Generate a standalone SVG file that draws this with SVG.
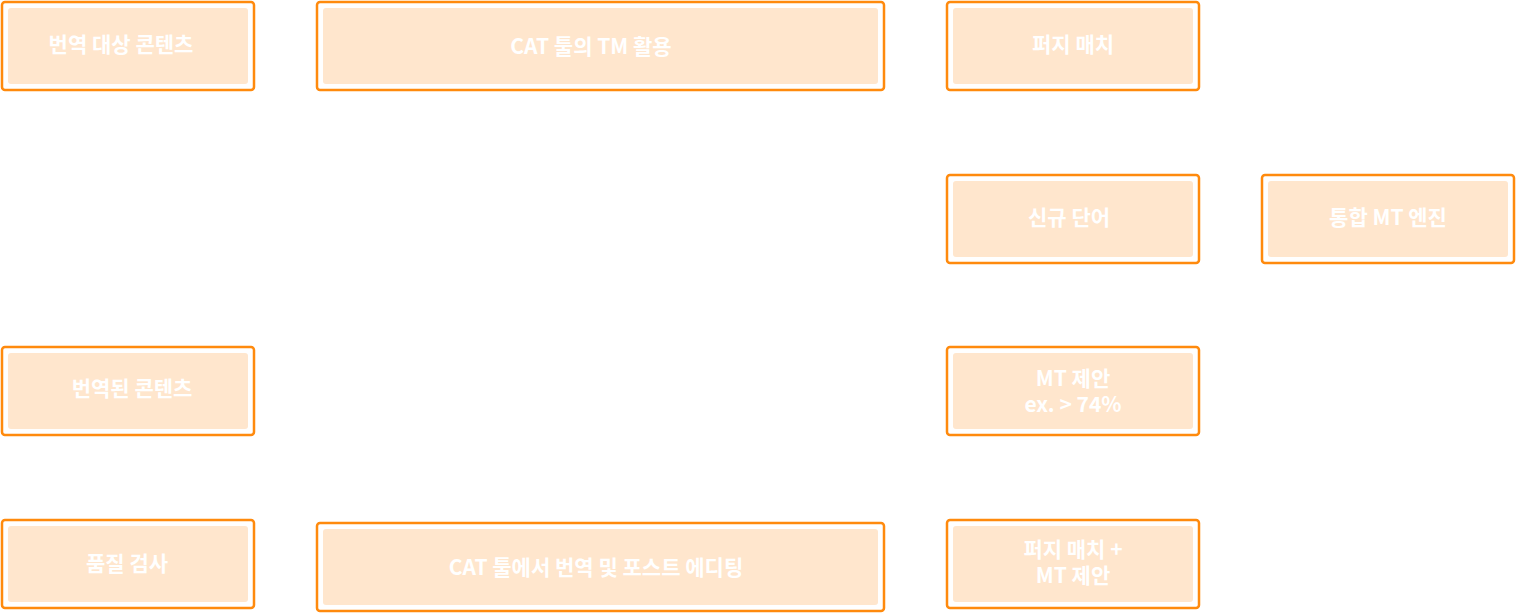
<svg xmlns="http://www.w3.org/2000/svg" width="1516" height="613" viewBox="0 0 1516 613">
<style>
.o{fill:#ffffff;stroke:#FF8A0D;stroke-width:2.5}
.i{fill:#FFE6CD}
text{font-family:"Noto Sans CJK KR","Noto Sans",sans-serif;font-weight:700;font-size:21px;fill:#ffffff;text-anchor:middle;dominant-baseline:central}
</style>
<rect width="1516" height="613" fill="#ffffff"/>
<g id="connectors"></g>
<g id="n1"><rect class="o" x="2" y="2" width="252" height="88" rx="3"/><rect class="i" x="8" y="8" width="240" height="76" rx="3"/><text x="121" y="43">번역 대상 콘텐츠</text></g>
<g id="n2"><rect class="o" x="317" y="2" width="567" height="88" rx="3"/><rect class="i" x="323" y="8" width="555" height="76" rx="3"/><text x="591" y="45">CAT 툴의 TM 활용</text></g>
<g id="n3"><rect class="o" x="947" y="2" width="252" height="88" rx="3"/><rect class="i" x="953" y="8" width="240" height="76" rx="3"/><text x="1073" y="43">퍼지 매치</text></g>
<g id="n4"><rect class="o" x="947" y="175" width="252" height="88" rx="3"/><rect class="i" x="953" y="181" width="240" height="76" rx="3"/><text x="1069" y="216">신규 단어</text></g>
<g id="n5"><rect class="o" x="1262" y="175" width="252" height="88" rx="3"/><rect class="i" x="1268" y="181" width="240" height="76" rx="3"/><text x="1388" y="216">통합 MT 엔진</text></g>
<g id="n6"><rect class="o" x="2" y="347" width="252" height="88" rx="3"/><rect class="i" x="8" y="353" width="240" height="76" rx="3"/><text x="132" y="387">번역된 콘텐츠</text></g>
<g id="n7"><rect class="o" x="947" y="347" width="252" height="88" rx="3"/><rect class="i" x="953" y="353" width="240" height="76" rx="3"/><text x="1073" y="377">MT 제안<tspan x="1073" y="403">ex. &gt; 74%</tspan></text></g>
<g id="n8"><rect class="o" x="2" y="520" width="252" height="88" rx="3"/><rect class="i" x="8" y="526" width="240" height="76" rx="3"/><text x="127" y="562">품질 검사</text></g>
<g id="n9"><rect class="o" x="317" y="523" width="567" height="88" rx="3"/><rect class="i" x="323" y="529" width="555" height="76" rx="3"/><text x="596" y="566">CAT 툴에서 번역 및 포스트 에디팅</text></g>
<g id="n10"><rect class="o" x="947" y="520" width="252" height="88" rx="3"/><rect class="i" x="953" y="526" width="240" height="76" rx="3"/><text x="1073" y="548">퍼지 매치 +<tspan x="1073" y="574">MT 제안</tspan></text></g>
</svg>
